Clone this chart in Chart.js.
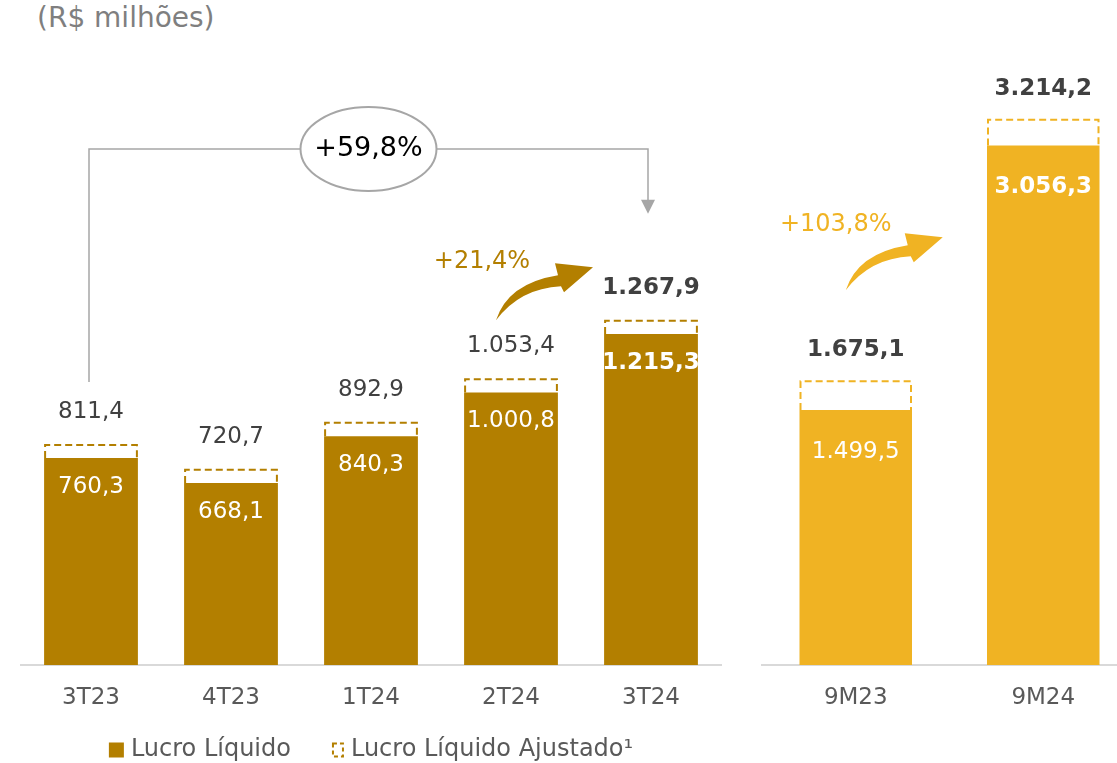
<!DOCTYPE html>
<html>
<head>
<meta charset="utf-8">
<script src="https://cdn.jsdelivr.net/npm/chart.js@4.4.1/dist/chart.umd.min.js"></script>
<style>
  html, body { margin: 0; padding: 0; background: #fff; overflow: hidden; width: 1117px; height: 763px; }
  #unit { position: absolute; left: 37px; top: 2px; font: 28px "DejaVu Sans", sans-serif; line-height: 32px; color: #7f7f7f; white-space: nowrap; }
  #quarters { position: absolute; left: 0; top: 0; }
  #ytd { position: absolute; left: 741px; top: 0; }
</style>
</head>
<body>
<div id="unit">(R$ milhões)</div>
<canvas id="quarters" width="730" height="763"></canvas>
<canvas id="ytd" width="396" height="763"></canvas>
<script>
// Quarterly net income (R$ millions)
const quarterLabels = ['3T23', '4T23', '1T24', '2T24', '3T24'];
const quarterNet = [760.3, 668.1, 840.3, 1000.8, 1215.3];
const quarterAdjusted = [811.4, 720.7, 892.9, 1053.4, 1267.9];

// Nine-month accumulated net income (R$ millions)
const ytdLabels = ['9M23', '9M24'];
const ytdNet = [1499.5, 3056.3];
const ytdAdjusted = [1675.1, 3214.2];

// Growth callouts
const growthYoY = '+59,8%';
const growthQoQ = '+21,4%';
const growthYtd = '+103,8%';

const seriesNames = ['Lucro Líquido', 'Lucro Líquido Ajustado¹'];

const DARK_GOLD = '#b37f00';
const LIGHT_GOLD = '#f0b323';
const FONT = '"DejaVu Sans", sans-serif';

// pt-BR number format: 1267.9 -> "1.267,9"
function fmt(v) {
  const [i, d] = v.toFixed(1).split('.');
  return i.replace(/\B(?=(\d{3})+(?!\d))/g, '.') + ',' + d;
}

// Dashed outline for the adjusted value, from its top down to the solid bar
const adjustedOutline = {
  id: 'adjustedOutline',
  afterDatasetsDraw(chart, args, o) {
    const ctx = chart.ctx;
    const adj = chart.getDatasetMeta(1).data;
    const net = chart.getDatasetMeta(0).data;
    ctx.save();
    ctx.setLineDash([7, 4]);
    ctx.lineWidth = 2;
    ctx.strokeStyle = o.color;
    adj.forEach((el, i) => {
      const p = el.getProps(['x', 'y', 'width'], true);
      const yNet = net[i].y;
      const l = p.x - p.width / 2 + 1, r = p.x + p.width / 2 - 1;
      ctx.beginPath();
      ctx.moveTo(l, yNet);
      ctx.lineTo(l, p.y + 1);
      ctx.lineTo(r, p.y + 1);
      ctx.lineTo(r, yNet);
      ctx.stroke();
    });
    ctx.restore();
  }
};

// Value labels: adjusted above the dashed box, net inside the solid bar
const valueLabels = {
  id: 'valueLabels',
  afterDatasetsDraw(chart, args, o) {
    const ctx = chart.ctx;
    const net = chart.getDatasetMeta(0).data;
    const adj = chart.getDatasetMeta(1).data;
    const netVals = chart.data.datasets[0].data;
    const adjVals = chart.data.datasets[1].data;
    ctx.save();
    ctx.textAlign = 'center';
    ctx.textBaseline = 'middle';
    adj.forEach((el, i) => {
      ctx.font = (o.adjBold[i] ? 'bold ' : '') + '23px ' + FONT;
      ctx.fillStyle = '#404040';
      ctx.fillText(fmt(adjVals[i]), el.x, el.y - o.adjGap);
    });
    net.forEach((el, i) => {
      ctx.font = (o.netBold[i] ? 'bold ' : '') + '23px ' + FONT;
      ctx.fillStyle = '#ffffff';
      ctx.fillText(fmt(netVals[i]), el.x, el.y + o.netGap);
    });
    ctx.restore();
  }
};

// Swooping growth arrow (tail at the origin, head up and to the right)
function drawSwoosh(ctx, x, y, color) {
  ctx.save();
  ctx.translate(x, y);
  ctx.fillStyle = color;
  ctx.beginPath();
  ctx.moveTo(0, 0);
  ctx.quadraticCurveTo(12, -37, 62, -45);
  ctx.lineTo(59, -57);
  ctx.lineTo(97, -53);
  ctx.lineTo(68, -28);
  ctx.lineTo(65, -34);
  ctx.quadraticCurveTo(24, -32, 0, 0);
  ctx.closePath();
  ctx.fill();
  ctx.restore();
}

const growthArrow = {
  id: 'growthArrow',
  afterDatasetsDraw(chart, args, o) {
    const ctx = chart.ctx;
    const el = chart.getDatasetMeta(1).data[o.index];
    const tx = el.x + o.dx, ty = el.y + o.dy;
    drawSwoosh(ctx, tx, ty, o.color);
    ctx.save();
    ctx.font = '24px ' + FONT;
    ctx.fillStyle = o.color;
    ctx.textAlign = 'center';
    ctx.textBaseline = 'middle';
    ctx.fillText(o.text, tx + o.tdx, ty + o.tdy);
    ctx.restore();
  }
};

// Bracket from first to last quarter with the year-on-year growth bubble
const yoyBracket = {
  id: 'yoyBracket',
  afterDatasetsDraw(chart, args, o) {
    const ctx = chart.ctx;
    const adj = chart.getDatasetMeta(1).data;
    const a = adj[0], b = adj[adj.length - 1];
    const yTop = chart.scales.y.getPixelForValue(o.level);
    const x1 = a.x - 2, x2 = b.x - 3;
    const tipY = b.y - 106;
    ctx.save();
    ctx.strokeStyle = '#a6a6a6';
    ctx.lineWidth = 1.5;
    ctx.beginPath();
    ctx.moveTo(x1, a.y - 62);
    ctx.lineTo(x1, yTop);
    ctx.lineTo(x2, yTop);
    ctx.lineTo(x2, tipY - 12);
    ctx.stroke();
    ctx.fillStyle = '#a6a6a6';
    ctx.beginPath();
    ctx.moveTo(x2 - 7, tipY - 14);
    ctx.lineTo(x2 + 7, tipY - 14);
    ctx.lineTo(x2, tipY);
    ctx.closePath();
    ctx.fill();
    const cx = (x1 + x2) / 2;
    ctx.beginPath();
    ctx.ellipse(cx, yTop, 68, 42, 0, 0, Math.PI * 2);
    ctx.fillStyle = '#ffffff';
    ctx.fill();
    ctx.lineWidth = 2;
    ctx.stroke();
    ctx.font = '27px ' + FONT;
    ctx.fillStyle = '#000000';
    ctx.textAlign = 'center';
    ctx.textBaseline = 'middle';
    ctx.fillText(o.text, cx, yTop);
    ctx.restore();
  }
};

// Legend under the quarterly panel: solid swatch and dashed swatch
const seriesLegend = {
  id: 'seriesLegend',
  afterDraw(chart, args, o) {
    const ctx = chart.ctx;
    ctx.save();
    ctx.font = '24px ' + FONT;
    ctx.textBaseline = 'middle';
    ctx.textAlign = 'left';
    const w1 = ctx.measureText(seriesNames[0]).width;
    const w2 = ctx.measureText(seriesNames[1]).width;
    const total = 15 + 7 + w1 + 41 + 12 + 7 + w2;
    let x = (chart.chartArea.left + chart.chartArea.right) / 2 - total / 2;
    const y = o.y;
    ctx.fillStyle = DARK_GOLD;
    ctx.fillRect(x, y - 7.5, 15, 15);
    x += 22;
    ctx.fillStyle = '#595959';
    ctx.fillText(seriesNames[0], x, y);
    x += w1 + 41;
    ctx.strokeStyle = DARK_GOLD;
    ctx.lineWidth = 2;
    ctx.setLineDash([4, 3]);
    ctx.strokeRect(x + 1, y - 6.5, 10, 13);
    ctx.setLineDash([]);
    x += 19;
    ctx.fillText(seriesNames[1], x, y);
    ctx.restore();
  }
};

function barDatasets(net, adjusted, color, pct) {
  return [
    { label: seriesNames[0], data: net, backgroundColor: color, borderWidth: 0,
      grouped: false, categoryPercentage: 1, barPercentage: pct, order: 1 },
    { label: seriesNames[1], data: adjusted, backgroundColor: 'rgba(0,0,0,0)', borderWidth: 0,
      grouped: false, categoryPercentage: 1, barPercentage: pct, order: 2 }
  ];
}

function xScale(height) {
  return {
    grid: { display: false, drawTicks: false },
    border: { display: true, color: '#d9d9d9', width: 2 },
    ticks: { color: '#595959', font: { family: FONT, size: 23 }, padding: 19 },
    afterFit(scale) { scale.height = height; }
  };
}

new Chart(document.getElementById('quarters'), {
  type: 'bar',
  data: { labels: quarterLabels, datasets: barDatasets(quarterNet, quarterAdjusted, DARK_GOLD, 0.67) },
  plugins: [adjustedOutline, valueLabels, growthArrow, yoyBracket, seriesLegend],
  options: {
    responsive: false,
    animation: false,
    layout: { padding: { left: 21, right: 9, top: 100, bottom: 0 } },
    scales: {
      x: xScale(98),
      y: { display: false, min: 0, max: 2075 }
    },
    plugins: {
      tooltip: { enabled: false },
      legend: { display: false },
      adjustedOutline: { color: DARK_GOLD },
      valueLabels: { adjGap: 32, netGap: 29,
        adjBold: [false, false, false, false, true], netBold: [false, false, false, false, true] },
      growthArrow: { index: 3, dx: -15, dy: -58, tdx: -14, tdy: -58, color: DARK_GOLD, text: growthQoQ },
      yoyBracket: { level: 1895, text: growthYoY },
      seriesLegend: { y: 750 }
    }
  }
});

new Chart(document.getElementById('ytd'), {
  type: 'bar',
  data: { labels: ytdLabels, datasets: barDatasets(ytdNet, ytdAdjusted, LIGHT_GOLD, 0.6) },
  plugins: [adjustedOutline, valueLabels, growthArrow],
  options: {
    responsive: false,
    animation: false,
    layout: { padding: { left: 21, right: 0, top: 100, bottom: 0 } },
    scales: {
      x: xScale(98),
      y: { display: false, min: 0, max: 3324 }
    },
    plugins: {
      tooltip: { enabled: false },
      legend: { display: false },
      adjustedOutline: { color: LIGHT_GOLD },
      valueLabels: { adjGap: 30, netGap: 42,
        adjBold: [true, true], netBold: [false, true] },
      growthArrow: { index: 0, dx: -10, dy: -90, tdx: -10, tdy: -66, color: LIGHT_GOLD, text: growthYtd }
    }
  }
});
</script>
</body>
</html>
